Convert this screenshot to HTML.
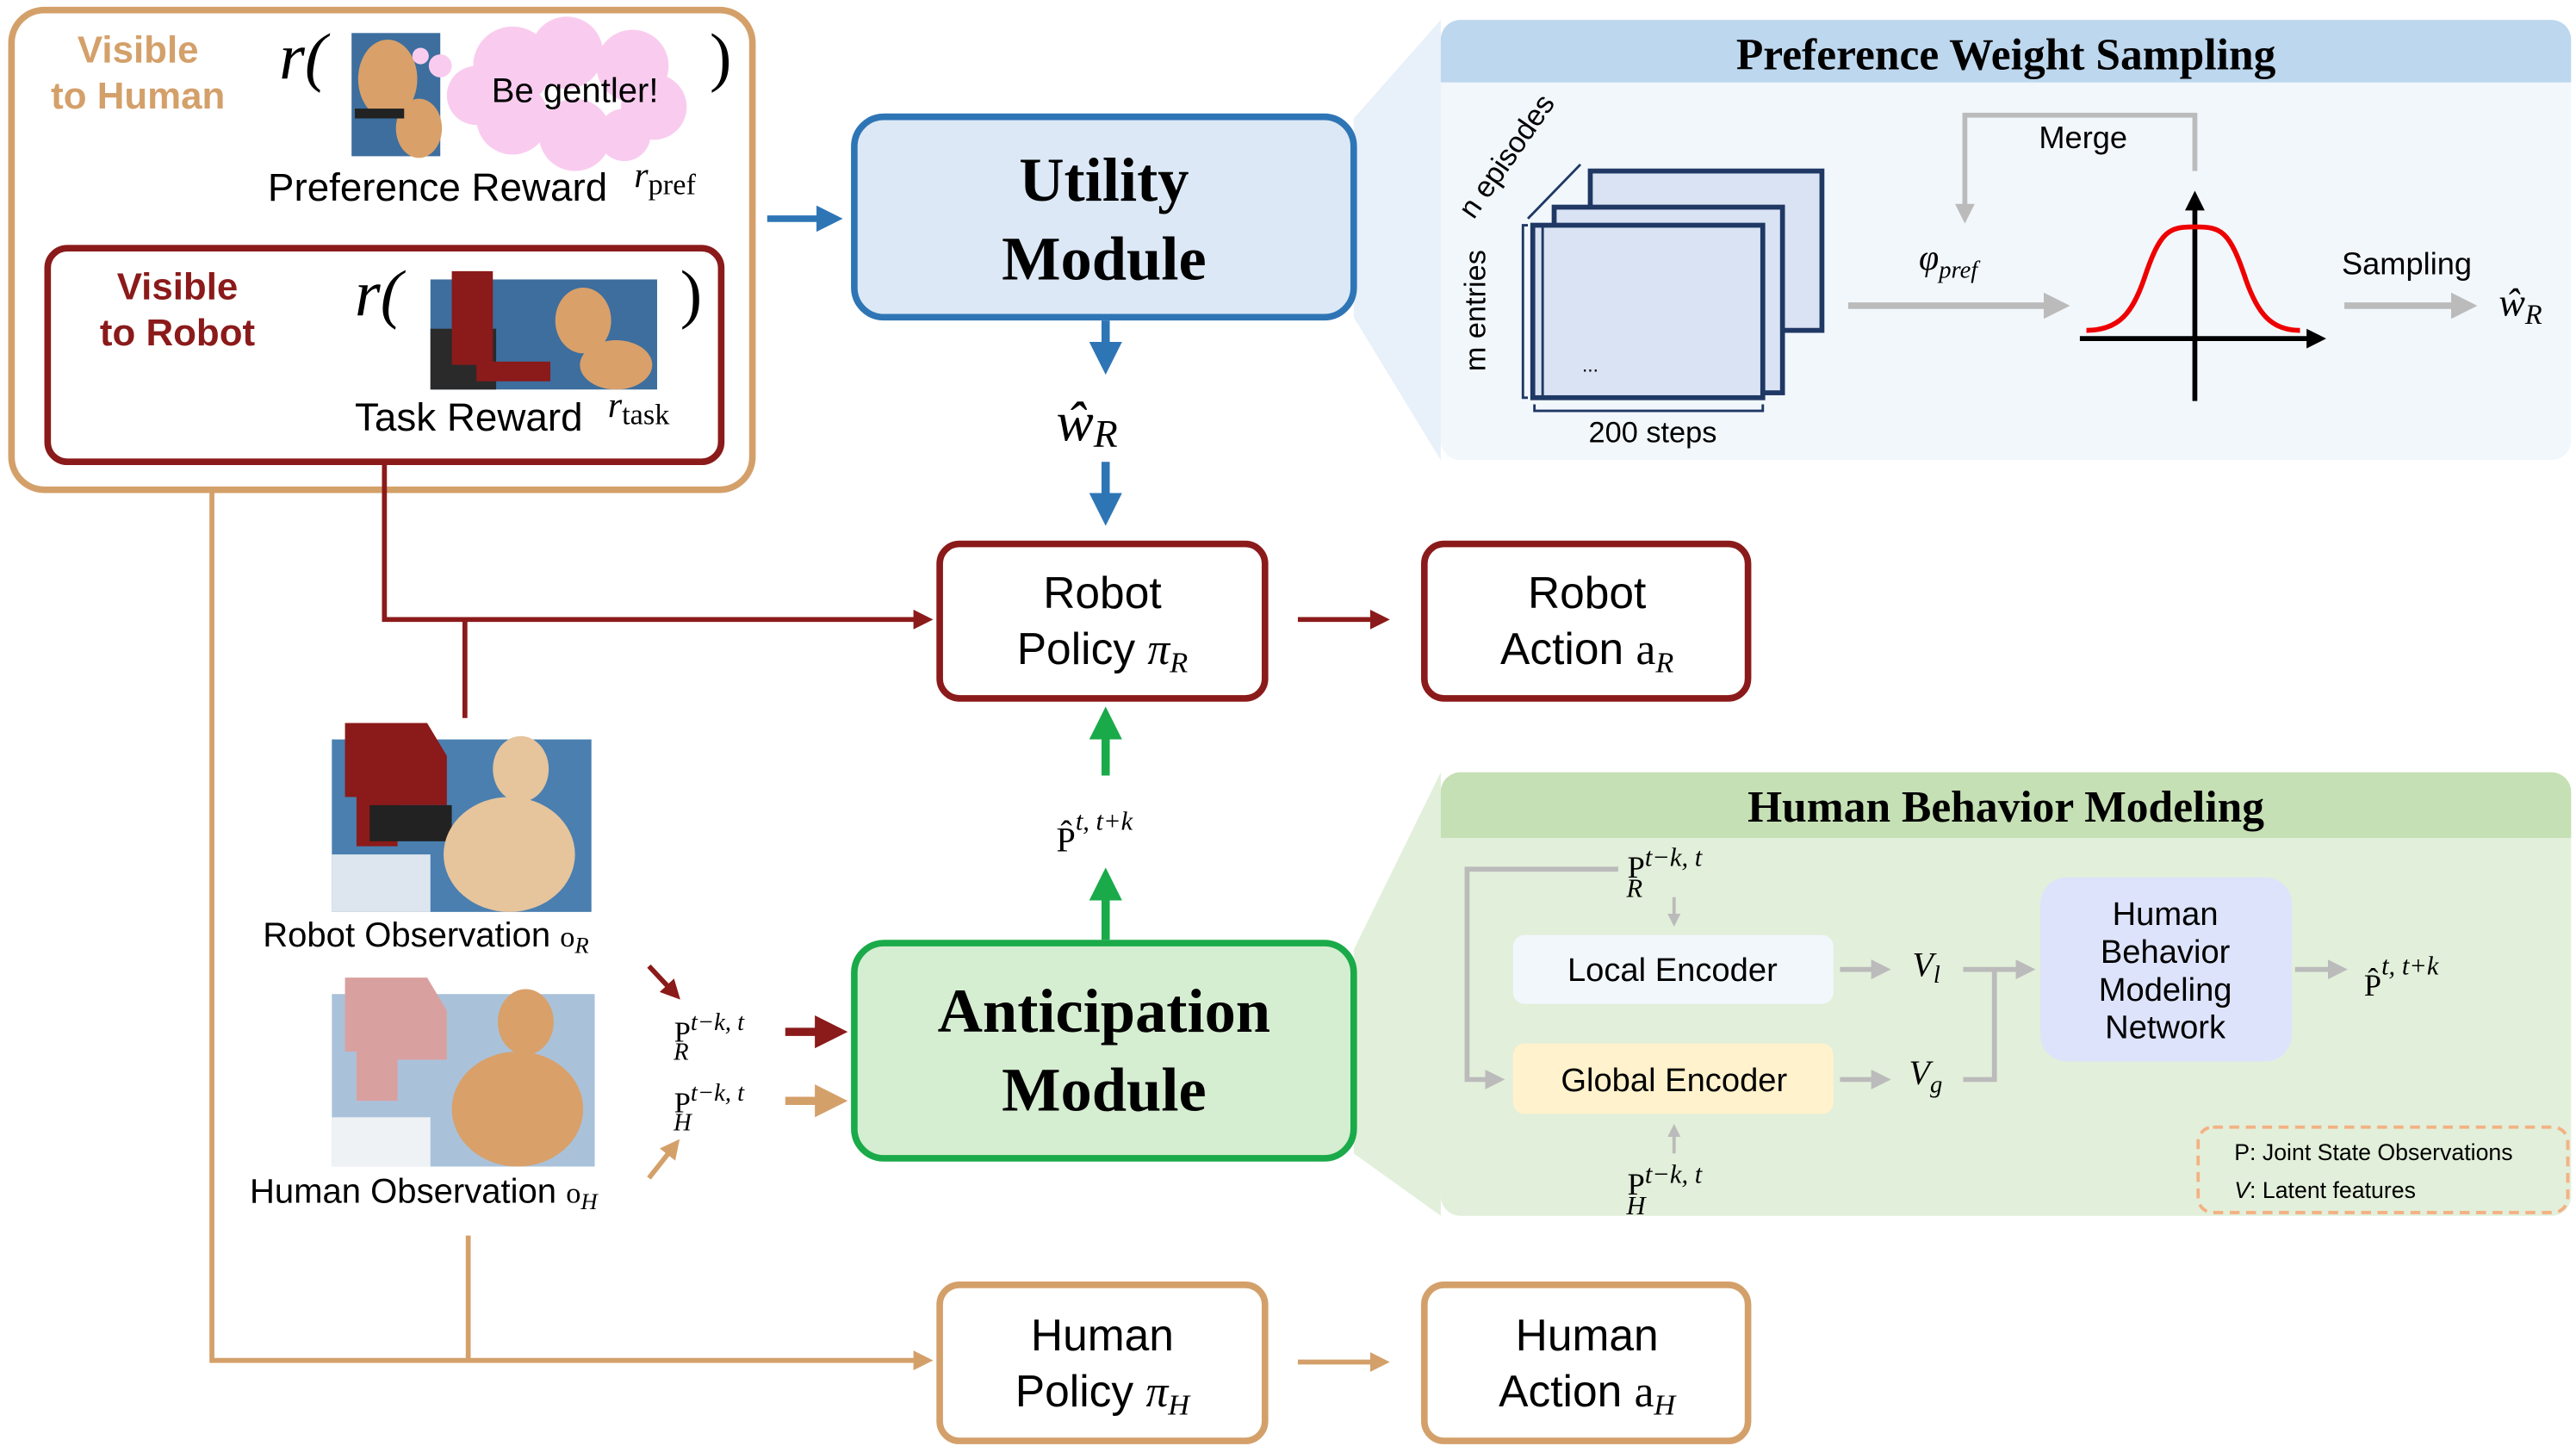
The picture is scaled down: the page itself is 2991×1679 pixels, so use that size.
<!DOCTYPE html>
<html><head><meta charset="utf-8"><style>html,body{margin:0;padding:0;background:#fff}svg{display:block}</style></head><body>
<svg width="2991" height="1679" viewBox="0 0 1568 880" xmlns="http://www.w3.org/2000/svg" font-family="Liberation Sans, sans-serif">
<defs>
<marker id="ab" markerWidth="4" markerHeight="4" refX="2" refY="2" orient="auto" markerUnits="strokeWidth"><path d="M0,0 L4,2 L0,4Z" fill="#2E75B6"/></marker>
<marker id="ar" markerWidth="4" markerHeight="4" refX="2" refY="2" orient="auto" markerUnits="strokeWidth"><path d="M0,0 L4,2 L0,4Z" fill="#8B1A1A"/></marker>
<marker id="ao" markerWidth="4" markerHeight="4" refX="2" refY="2" orient="auto" markerUnits="strokeWidth"><path d="M0,0 L4,2 L0,4Z" fill="#D4A06A"/></marker>
<marker id="ag" markerWidth="4" markerHeight="4" refX="2" refY="2" orient="auto" markerUnits="strokeWidth"><path d="M0,0 L4,2 L0,4Z" fill="#1AAA4A"/></marker>
<marker id="agr" markerWidth="4" markerHeight="4" refX="2" refY="2" orient="auto" markerUnits="strokeWidth"><path d="M0,0 L4,2 L0,4Z" fill="#BBBBBB"/></marker>
<marker id="ak" markerWidth="4" markerHeight="4" refX="2" refY="2" orient="auto" markerUnits="strokeWidth"><path d="M0,0 L4,2 L0,4Z" fill="#000"/></marker>
</defs>

<polygon points="824,72 877,12 877,280 824,193" fill="#E8F0F9"/>
<polygon points="824,578 877,470 877,740 824,702" fill="#E2EFDA"/>

<rect x="877" y="12" width="688" height="268" rx="12" fill="#F2F7FC"/>
<path d="M877,50 V24 a12,12 0 0 1 12,-12 H1553 a12,12 0 0 1 12,12 V50Z" fill="#BDD7EE"/>
<text x="1221" y="42" font-family="Liberation Serif, serif" font-weight="bold" font-size="27" text-anchor="middle">Preference Weight Sampling</text>
<rect x="968" y="104" width="141" height="97" fill="#DAE3F3" stroke="#1F3864" stroke-width="3"/>
<rect x="946" y="126" width="139" height="113" fill="#DAE3F3" stroke="#1F3864" stroke-width="3"/>
<rect x="933" y="137" width="140" height="105" fill="#DAE3F3" stroke="#1F3864" stroke-width="3"/>
<line x1="939" y1="137" x2="939" y2="242" stroke="#1F3864" stroke-width="1.5"/>
<text x="968" y="226" font-size="12" text-anchor="middle">...</text>
<path d="M930,137 h-3 v105 h3" fill="none" stroke="#1F3864" stroke-width="1.5"/>
<path d="M934,246 v4 h139 v-4" fill="none" stroke="#1F3864" stroke-width="1.5"/>
<line x1="930" y1="133" x2="962" y2="100" stroke="#1F3864" stroke-width="1.5"/>
<text transform="translate(904,226) rotate(-90)" font-size="18">m entries</text>
<text transform="translate(897,134) rotate(-55)" font-size="18">n episodes</text>
<text x="1006" y="269" font-size="18" text-anchor="middle">200 steps</text>
<line x1="1125" y1="186" x2="1252" y2="186" stroke="#BBBBBB" stroke-width="4" marker-end="url(#agr)"/>
<text x="1168" y="164" font-family="Liberation Serif, serif" font-style="italic" font-size="22">φ<tspan font-size="15" dy="5">pref</tspan></text>
<path d="M1336,104 V70 H1196 V130" fill="none" stroke="#BBBBBB" stroke-width="3" marker-end="url(#agr)"/>
<text x="1268" y="90" font-size="19" text-anchor="middle">Merge</text>
<line x1="1266" y1="206" x2="1410" y2="206" stroke="#000" stroke-width="3" marker-end="url(#ak)"/>
<line x1="1336" y1="244" x2="1336" y2="122" stroke="#000" stroke-width="3" marker-end="url(#ak)"/>
<path d="M1270,201 C1290,201 1298,190 1305,170 C1315,140 1320,138 1336,138 C1352,138 1357,140 1367,170 C1374,190 1382,201 1400,201" fill="none" stroke="#EE0000" stroke-width="3"/>
<text x="1465" y="167" font-size="19" text-anchor="middle">Sampling</text>
<line x1="1427" y1="186" x2="1500" y2="186" stroke="#BBBBBB" stroke-width="4" marker-end="url(#agr)"/>
<text x="1521" y="192" font-family="Liberation Serif, serif" font-style="italic" font-size="24">ŵ<tspan font-size="17" dy="5">R</tspan></text>

<rect x="877" y="470" width="688" height="270" rx="12" fill="#E2EFDA"/>
<path d="M877,510 V482 a12,12 0 0 1 12,-12 H1553 a12,12 0 0 1 12,12 V510Z" fill="#C5E0B4"/>
<text x="1221" y="500" font-family="Liberation Serif, serif" font-weight="bold" font-size="27" text-anchor="middle">Human Behavior Modeling</text>
<rect x="921" y="569" width="195" height="42" rx="7" fill="#F2F7FC"/>
<text x="1018" y="597" font-size="20" text-anchor="middle">Local Encoder</text>
<rect x="921" y="635" width="195" height="43" rx="7" fill="#FFF2CC"/>
<text x="1019" y="664" font-size="20" text-anchor="middle">Global Encoder</text>
<rect x="1242" y="534" width="153" height="112" rx="16" fill="#DDE3FB"/>
<g font-size="20" text-anchor="middle"><text x="1318" y="563">Human</text><text x="1318" y="586">Behavior</text><text x="1318" y="609">Modeling</text><text x="1318" y="632">Network</text></g>
<g font-family="Liberation Serif, serif" font-size="19">
<text x="990" y="534">P<tspan font-style="italic" font-size="16" dy="-7">t−k, t</tspan><tspan font-style="italic" font-size="16" dx="-46" dy="19">R</tspan></text>
<text x="990" y="727">P<tspan font-style="italic" font-size="16" dy="-7">t−k, t</tspan><tspan font-style="italic" font-size="16" dx="-46" dy="19">H</tspan></text>
<text x="1439" y="606">P̂<tspan font-style="italic" font-size="16" dy="-13">t, t+k</tspan></text>
<text x="1164" y="594" font-style="italic" font-size="21">V<tspan font-size="15" dy="4">l</tspan></text>
<text x="1162" y="660" font-style="italic" font-size="21">V<tspan font-size="15" dy="5">g</tspan></text>
</g>
<path d="M985,529 H893 V657 H910" fill="none" stroke="#BBBBBB" stroke-width="3" marker-end="url(#agr)"/>
<line x1="1019" y1="546" x2="1019" y2="560" stroke="#BBBBBB" stroke-width="2" marker-end="url(#agr)"/>
<line x1="1019" y1="702" x2="1019" y2="688" stroke="#BBBBBB" stroke-width="2" marker-end="url(#agr)"/>
<line x1="1120" y1="590" x2="1145" y2="590" stroke="#BBBBBB" stroke-width="3" marker-end="url(#agr)"/>
<line x1="1120" y1="657" x2="1145" y2="657" stroke="#BBBBBB" stroke-width="3" marker-end="url(#agr)"/>
<path d="M1195,657 H1214 V590" fill="none" stroke="#BBBBBB" stroke-width="3"/>
<line x1="1195" y1="590" x2="1233" y2="590" stroke="#BBBBBB" stroke-width="3" marker-end="url(#agr)"/>
<line x1="1397" y1="590" x2="1423" y2="590" stroke="#BBBBBB" stroke-width="3" marker-end="url(#agr)"/>
<rect x="1338" y="686" width="225" height="52" rx="9" fill="none" stroke="#F4B183" stroke-width="2" stroke-dasharray="6,4"/>
<text x="1360" y="706" font-size="14">P: Joint State Observations</text>
<text x="1360" y="729" font-size="14"><tspan font-style="italic">V</tspan>: Latent features</text>

<rect x="7" y="6" width="451" height="292" rx="20" fill="#fff" stroke="#D4A06A" stroke-width="4"/>
<text x="84" y="38" font-size="23" font-weight="bold" fill="#D4A06A" text-anchor="middle">Visible</text>
<text x="84" y="66" font-size="23" font-weight="bold" fill="#D4A06A" text-anchor="middle">to Human</text>
<text x="170" y="48" font-family="Liberation Serif, serif" font-style="italic" font-size="40">r(</text>
<text x="432" y="48" font-family="Liberation Serif, serif" font-size="40">)</text>
<rect x="214" y="20" width="54" height="75" fill="#3D6E9E"/>
<ellipse cx="236" cy="48" rx="18" ry="24" fill="#D9A06A"/>
<ellipse cx="255" cy="78" rx="14" ry="18" fill="#D9A06A"/>
<rect x="216" y="66" width="30" height="6" fill="#222"/>
<g fill="#F9CCEF"><circle cx="312" cy="40" r="24"/><circle cx="345" cy="32" r="22"/><circle cx="385" cy="40" r="22"/><circle cx="398" cy="65" r="20"/><circle cx="350" cy="82" r="22"/><circle cx="312" cy="72" r="22"/><circle cx="380" cy="82" r="16"/><circle cx="290" cy="58" r="18"/><circle cx="268" cy="40" r="7"/><circle cx="256" cy="34" r="5"/></g>
<text x="350" y="62" font-size="21" text-anchor="middle">Be gentler!</text>
<text x="163" y="122" font-size="24">Preference Reward</text>
<text x="386" y="114" font-family="Liberation Serif, serif" font-size="22"><tspan font-style="italic">r</tspan><tspan font-size="18" dy="4">pref</tspan></text>
<rect x="29" y="151" width="410" height="130" rx="12" fill="#fff" stroke="#8B1A1A" stroke-width="4"/>
<text x="108" y="182" font-size="23" font-weight="bold" fill="#8B1A1A" text-anchor="middle">Visible</text>
<text x="108" y="210" font-size="23" font-weight="bold" fill="#8B1A1A" text-anchor="middle">to Robot</text>
<text x="216" y="192" font-family="Liberation Serif, serif" font-style="italic" font-size="40">r(</text>
<text x="414" y="192" font-family="Liberation Serif, serif" font-size="40">)</text>
<rect x="262" y="170" width="138" height="67" fill="#3D6E9E"/>
<rect x="262" y="200" width="40" height="37" fill="#2A2A2A"/>
<path d="M275,165 h25 v55 h35 v12 h-45 v-10 h-15Z" fill="#8B1A1A"/>
<ellipse cx="355" cy="195" rx="17" ry="20" fill="#D9A06A"/>
<ellipse cx="375" cy="222" rx="22" ry="15" fill="#D9A06A"/>
<text x="216" y="262" font-size="24">Task Reward</text>
<text x="370" y="254" font-family="Liberation Serif, serif" font-size="22"><tspan font-style="italic">r</tspan><tspan font-size="18" dy="4">task</tspan></text>

<line x1="467" y1="133" x2="505" y2="133" stroke="#2E75B6" stroke-width="4" marker-end="url(#ab)"/>
<rect x="520" y="71" width="304" height="122" rx="18" fill="#DCE8F5" stroke="#2E75B6" stroke-width="4"/>
<text x="672" y="122" font-family="Liberation Serif, serif" font-weight="bold" font-size="38" text-anchor="middle">Utility</text>
<text x="672" y="170" font-family="Liberation Serif, serif" font-weight="bold" font-size="38" text-anchor="middle">Module</text>
<line x1="673" y1="195" x2="673" y2="218" stroke="#2E75B6" stroke-width="5" marker-end="url(#ab)"/>
<text x="643" y="268" font-family="Liberation Serif, serif" font-style="italic" font-size="34">ŵ<tspan font-size="24" dy="4">R</tspan></text>
<line x1="673" y1="281" x2="673" y2="310" stroke="#2E75B6" stroke-width="5" marker-end="url(#ab)"/>

<rect x="572" y="331" width="198" height="94" rx="12" fill="#fff" stroke="#8B1A1A" stroke-width="4"/>
<text x="671" y="370" font-size="27" text-anchor="middle">Robot</text>
<text x="671" y="404" font-size="27" text-anchor="middle">Policy <tspan font-family="Liberation Serif, serif" font-style="italic">π<tspan font-size="18" dy="5">R</tspan></tspan></text>
<line x1="790" y1="377" x2="840" y2="377" stroke="#8B1A1A" stroke-width="3" marker-end="url(#ar)"/>
<rect x="867" y="331" width="197" height="94" rx="12" fill="#fff" stroke="#8B1A1A" stroke-width="4"/>
<text x="966" y="370" font-size="27" text-anchor="middle">Robot</text>
<text x="966" y="404" font-size="27" text-anchor="middle">Action <tspan font-family="Liberation Serif, serif">a<tspan font-style="italic" font-size="18" dy="5">R</tspan></tspan></text>
<path d="M234,283 V377 H562" fill="none" stroke="#8B1A1A" stroke-width="3" marker-end="url(#ar)"/>
<line x1="283" y1="377" x2="283" y2="437" stroke="#8B1A1A" stroke-width="3"/>

<path d="M129,300 V828 H562" fill="none" stroke="#D4A06A" stroke-width="3" marker-end="url(#ao)"/>
<line x1="285" y1="752" x2="285" y2="828" stroke="#D4A06A" stroke-width="3"/>

<rect x="202" y="450" width="158" height="105" fill="#4A7FB0"/>
<rect x="202" y="520" width="60" height="35" fill="#DDE6EE"/>
<path d="M210,440 h50 l12,20 v30 h-30 v25 h-25 v-30 h-7Z" fill="#8B1A1A"/>
<rect x="225" y="490" width="50" height="22" fill="#222"/>
<ellipse cx="317" cy="468" rx="17" ry="20" fill="#E6C49C"/>
<ellipse cx="310" cy="520" rx="40" ry="35" fill="#E6C49C"/>
<text x="160" y="576" font-size="21">Robot Observation <tspan font-family="Liberation Serif, serif" font-size="18">o<tspan font-style="italic" font-size="14" dy="4">R</tspan></tspan></text>
<rect x="202" y="605" width="160" height="105" fill="#A9C2DA"/>
<path d="M210,595 h50 l12,20 v30 h-30 v25 h-25 v-30 h-7Z" fill="#D9A0A0"/>
<ellipse cx="320" cy="622" rx="17" ry="20" fill="#D9A06A"/>
<ellipse cx="315" cy="675" rx="40" ry="35" fill="#D9A06A"/>
<rect x="202" y="680" width="60" height="30" fill="#EEF2F5"/>
<text x="152" y="732" font-size="21">Human Observation <tspan font-family="Liberation Serif, serif" font-size="18">o<tspan font-style="italic" font-size="14" dy="4">H</tspan></tspan></text>

<line x1="395" y1="588" x2="410" y2="604" stroke="#8B1A1A" stroke-width="3" marker-end="url(#ar)"/>
<line x1="395" y1="717" x2="410" y2="698" stroke="#D4A06A" stroke-width="3" marker-end="url(#ao)"/>
<g font-family="Liberation Serif, serif" font-size="18">
<text x="410" y="634">P<tspan font-style="italic" font-size="15" dy="-7">t−k, t</tspan><tspan font-style="italic" font-size="15" dx="-43" dy="18">R</tspan></text>
<text x="410" y="677">P<tspan font-style="italic" font-size="15" dy="-7">t−k, t</tspan><tspan font-style="italic" font-size="15" dx="-43" dy="18">H</tspan></text>
</g>
<line x1="478" y1="628" x2="506" y2="628" stroke="#8B1A1A" stroke-width="5" marker-end="url(#ar)"/>
<line x1="478" y1="670" x2="506" y2="670" stroke="#D4A06A" stroke-width="5" marker-end="url(#ao)"/>

<rect x="520" y="574" width="304" height="131" rx="18" fill="#D5EDD0" stroke="#1AAA4A" stroke-width="4"/>
<text x="672" y="628" font-family="Liberation Serif, serif" font-weight="bold" font-size="38" text-anchor="middle">Anticipation</text>
<text x="672" y="676" font-family="Liberation Serif, serif" font-weight="bold" font-size="38" text-anchor="middle">Module</text>
<line x1="673" y1="572" x2="673" y2="538" stroke="#1AAA4A" stroke-width="5" marker-end="url(#ag)"/>
<text x="643" y="518" font-family="Liberation Serif, serif" font-size="21">P̂<tspan font-style="italic" font-size="16" dy="-13">t, t+k</tspan></text>
<line x1="673" y1="472" x2="673" y2="440" stroke="#1AAA4A" stroke-width="5" marker-end="url(#ag)"/>

<rect x="572" y="782" width="198" height="95" rx="12" fill="#fff" stroke="#D4A06A" stroke-width="4"/>
<text x="671" y="822" font-size="27" text-anchor="middle">Human</text>
<text x="671" y="856" font-size="27" text-anchor="middle">Policy <tspan font-family="Liberation Serif, serif" font-style="italic">π<tspan font-size="18" dy="5">H</tspan></tspan></text>
<line x1="790" y1="829" x2="840" y2="829" stroke="#D4A06A" stroke-width="3" marker-end="url(#ao)"/>
<rect x="867" y="782" width="197" height="95" rx="12" fill="#fff" stroke="#D4A06A" stroke-width="4"/>
<text x="966" y="822" font-size="27" text-anchor="middle">Human</text>
<text x="966" y="856" font-size="27" text-anchor="middle">Action <tspan font-family="Liberation Serif, serif">a<tspan font-style="italic" font-size="18" dy="5">H</tspan></tspan></text>
</svg>
</body></html>
